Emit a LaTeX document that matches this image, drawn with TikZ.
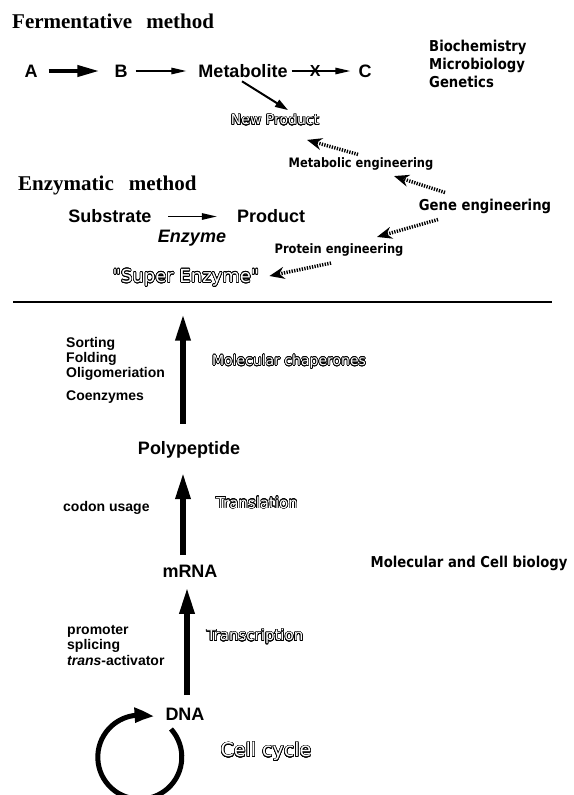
\documentclass[tikz,border=0pt]{standalone}
\usepackage{fontspec}
\setmainfont{Liberation Sans}
\newfontfamily\titlefont{Liberation Serif}
\newfontfamily\chicagofont[FakeStretch=0.88]{DejaVu Sans}
\newfontfamily\outlinefont{DejaVu Sans}
\usepackage{contour}
\contourlength{0.6pt}
\contournumber{24}
\usetikzlibrary{arrows.meta,bending,calc}
\newcommand{\outl}[1]{{\color{white}\contour{black}{#1}}}
\tikzset{
  lbl/.style={font=\bfseries\fontsize{18}{20}\selectfont, inner sep=0pt},
  note/.style={font=\bfseries\fontsize{14}{15}\selectfont, inner sep=0pt, align=left},
  title/.style={font=\titlefont\bfseries\fontsize{21}{24}\selectfont, inner sep=0pt, anchor=west},
  chic/.style={font=\chicagofont\bfseries\fontsize{#1}{18}\selectfont, inner sep=0pt},
  outl/.style={font=\outlinefont\fontsize{#1}{#1}\selectfont, inner sep=0pt},
  thickarr/.style={line width=4pt, -{Triangle[length=22pt,width=11pt]}},
  thinarr/.style={line width=1.4pt, -{Triangle[length=15pt,width=6.5pt]}},
  medarr/.style={line width=2pt, -{Triangle[length=13pt,width=8pt]}},
  bigarr/.style={line width=6pt, -{Triangle[length=27pt,width=14pt]}},
  dotarr/.style={line width=3.5pt, dash pattern=on 1.3pt off 1.3pt, -{Stealth[length=15pt,width=12pt,inset=5pt]}},
  cycarr/.style={line width=5pt, -{Triangle[length=20pt,width=14pt,bend]}}
}
\begin{document}
\begin{tikzpicture}[x=1pt,y=-1pt]
\useasboundingbox (0,0) rectangle (573,795);
% fermentative and enzymatic
\node[title] (ferm) at (12,21) {Fermentative\hspace{14pt}method};
\node[lbl] (A) at (31,71) {A};
\node[lbl] (B) at (121,71) {B};
\node[lbl] (met) at (243,71) {Metabolite};
\node[lbl] (C) at (365,71) {C};
\node[chic=15, anchor=north west, align=left] (disc) at (429,40) {Biochemistry\\Microbiology\\Genetics};
\node[outl=14] (newprod) at (275,120) {\outl{New Product}};
\node[chic=13] (meteng) at (361,164) {Metabolic engineering};
\node[chic=15] (geneng) at (485,206) {Gene engineering};
\node[title] (enz) at (18,185) {Enzymatic\hspace{15pt}method};
\node[lbl] (sub) at (110,216.5) {Substrate};
\node[lbl] (prod) at (271,216.5) {Product};
\node[lbl, font=\bfseries\itshape\fontsize{18}{20}\selectfont] (enzyme) at (192,238) {Enzyme};
\node[chic=13] (proteng) at (339,249.5) {Protein engineering};
\node[outl=18] (super) at (186,278) {\outl{"Super Enzyme"}};
\coordinate (sepL) at (13,302);
\coordinate (sepR) at (552,302);
\draw[thickarr] ($(A.east)+(11,0)$) -- ($(B.west)+(-15,0)$);
\draw[thinarr] ($(B.east)+(8,0)$) -- ($(met.west)+(-12,0)$);
\draw[thinarr] ($(met.east)+(4,0)$) -- node[pos=0.4, font=\bfseries\fontsize{16}{16}\selectfont, inner sep=0pt] (block) {X} ($(C.west)+(-8,0)$);
\draw[medarr] ($(met.south)+(-1,3.5)$) -- ($(newprod.north)+(13,-4)$);
\draw[dotarr] ($(meteng.north)+(-3,-3)$) -- ($(newprod.south)+(32,14)$);
\draw[dotarr] ($(geneng.north)+(-40,-6)$) -- ($(meteng.south)+(33,5.5)$);
\draw[dotarr] ($(geneng.south)+(-47,6)$) -- ($(proteng.north)+(38,-6)$);
\draw[dotarr] ($(proteng.south)+(-8,7)$) -- ($(super.east)+(10,-2)$);
\draw[thinarr] ($(sub.east)+(16.5,0)$) -- ($(prod.west)+(-20,0)$);
\draw[line width=2pt] (sepL) -- (sepR);
% molecular and cell biology
\node[note, anchor=north west] (fold) at (66,337) {Sorting\\Folding\\Oligomeriation\\[8pt]Coenzymes};
\node[outl=14] (chap) at (289,362) {\outl{Molecular chaperones}};
\node[lbl] (poly) at (189,450) {Polypeptide};
\node[note, anchor=west] (codon) at (63,508) {codon usage};
\node[outl=15] (transl) at (257,503) {\outl{Translation}};
\node[lbl] (mrna) at (190,571) {mRNA};
\node[chic=15] (molcell) at (469,563) {Molecular and Cell biology};
\node[note, anchor=north west, font=\bfseries\fontsize{14}{15.5}\selectfont] (prom) at (67,625) {promoter\\splicing\\\textit{trans}-activator};
\node[outl=15] (transc) at (255,637) {\outl{Transcription}};
\node[lbl] (dna) at (185,714) {DNA};
\node[outl=19] (cellcyc) at (266,752) {\outl{Cell cycle}};
\coordinate (cycstart) at (171,729);
\draw[bigarr] ($(poly.north)+(-6,-17.5)$) -- ($(super.south)+(-3,26.5)$);
\draw[bigarr] ($(mrna.north)+(-7,-9.5)$) -- ($(poly.south)+(-6,13.5)$);
\draw[bigarr] ($(dna.north)+(2,-12.5)$) -- ($(mrna.south)+(-3,9.5)$);
\draw[cycarr] (cycstart) arc[start angle=-42, end angle=290, radius=42];
\end{tikzpicture}
\end{document}
